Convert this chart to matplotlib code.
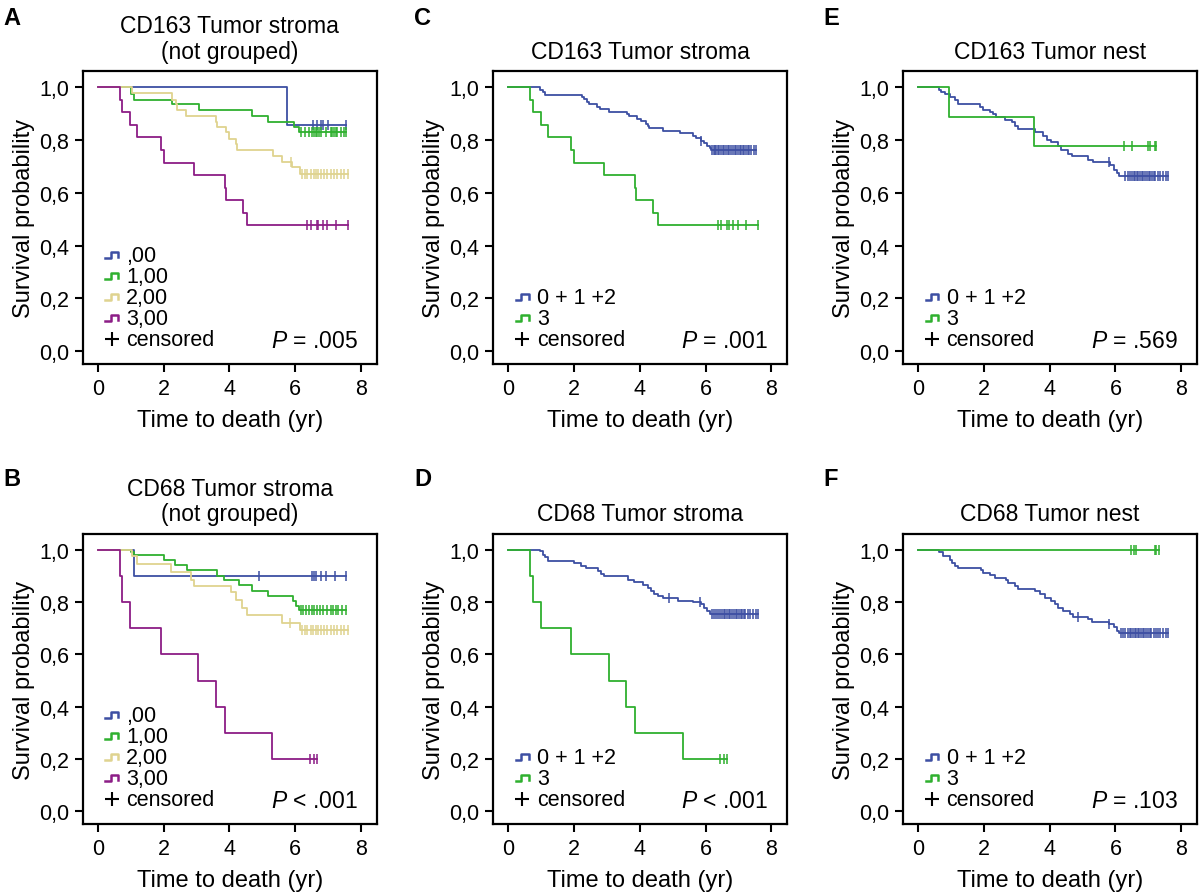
import matplotlib
matplotlib.use("Agg")
import matplotlib.pyplot as plt
import numpy as np
from matplotlib.lines import Line2D
from matplotlib.legend_handler import HandlerBase

plt.rcParams['font.family'] = ['Liberation Sans', 'DejaVu Sans']
plt.rcParams['mathtext.fontset'] = 'custom'
plt.rcParams['mathtext.it'] = 'Liberation Sans:italic'
plt.rcParams['mathtext.rm'] = 'Liberation Sans'

BLUE = '#3d4fa3'
GREEN = '#2fb02f'
YELLOW = '#dfd38f'
PURPLE = '#8c1d86'

# ---------------- data (drop times, survival after drop, censor times) ----------------
# Panel A: CD163 tumor stroma (not grouped)
a0_t = [5.74]
a0_s = [0.857]
a0_c = [6.54, 6.65, 6.77, 6.85, 7.0, 7.54]
a1_t = [1.01, 1.10, 2.26, 3.07, 4.70, 5.18, 5.96, 6.12]
a1_s = [0.975, 0.953, 0.937, 0.914, 0.893, 0.870, 0.849, 0.830]
a1_c = [6.17, 6.29, 6.42, 6.52, 6.57, 6.62, 6.67, 6.72, 6.77, 6.93, 7.08, 7.13,
        7.18, 7.23, 7.28, 7.38, 7.48, 7.54]
a2_t = [1.04, 2.26, 2.36, 2.41, 2.67, 3.58, 3.63, 3.88, 3.99, 4.19, 4.24, 5.33,
        5.61, 5.91, 6.15]
a2_s = [0.977, 0.953, 0.937, 0.914, 0.893, 0.870, 0.849, 0.830, 0.805, 0.784,
        0.761, 0.738, 0.717, 0.698, 0.673]
a2_c = [5.86, 6.22, 6.29, 6.37, 6.47, 6.57, 6.62, 6.69, 6.77, 6.88, 6.98, 7.08,
        7.18, 7.28, 7.38, 7.48, 7.59]
a3_t = [0.67, 0.74, 0.99, 1.20, 1.91, 2.01, 2.92, 3.85, 3.88, 4.41, 4.54]
a3_s = [0.952, 0.905, 0.857, 0.810, 0.762, 0.714, 0.667, 0.619, 0.571, 0.524, 0.476]
a3_c = [6.37, 6.47, 6.65, 6.70, 6.83, 6.98, 7.23, 7.59]

# Panel C: CD163 tumor stroma grouped (group 3 = A's 3,00)
c012_t = [0.97, 1.04, 1.10, 2.23, 2.31, 2.39, 2.46, 2.70, 2.80, 3.07, 3.61, 3.68,
          3.91, 4.02, 4.19, 4.24, 4.29, 4.70, 5.21, 5.61, 5.71, 5.86, 5.96, 6.04,
          6.12, 6.17]
c012_s = [0.991, 0.982, 0.972, 0.963, 0.954, 0.945, 0.936, 0.926, 0.917, 0.908,
          0.899, 0.890, 0.880, 0.871, 0.862, 0.853, 0.844, 0.834, 0.825, 0.816,
          0.807, 0.798, 0.788, 0.779, 0.770, 0.761]
c012_c = [5.86, 6.19, 6.25, 6.29, 6.33, 6.37, 6.42, 6.47, 6.52, 6.57, 6.62, 6.67,
          6.72, 6.77, 6.83, 6.88, 6.93, 6.98, 7.03, 7.08, 7.13, 7.18, 7.23, 7.28,
          7.33, 7.38, 7.48, 7.54]

# Panel E: CD163 tumor nest
e012_t = [0.63, 0.69, 0.81, 0.98, 1.12, 1.20, 1.88, 1.98, 2.18, 2.28, 2.37, 2.64,
          2.84, 2.94, 3.03, 3.55, 3.81, 3.91, 4.04, 4.26, 4.34, 4.57, 4.67, 5.18,
          5.33, 5.84, 5.97, 6.04, 6.12]
e012_s = [0.990, 0.981, 0.975, 0.965, 0.950, 0.937, 0.925, 0.915, 0.906, 0.897,
          0.887, 0.877, 0.868, 0.855, 0.843, 0.830, 0.814, 0.801, 0.792, 0.776,
          0.763, 0.748, 0.738, 0.725, 0.717, 0.704, 0.688, 0.675, 0.665]
e012_c = [5.81, 6.29, 6.38, 6.45, 6.50, 6.55, 6.60, 6.65, 6.70, 6.75, 6.80, 6.85,
          6.90, 6.95, 7.01, 7.06, 7.11, 7.16, 7.21, 7.29, 7.36, 7.46, 7.54, 7.59]
e3_t = [0.94, 3.53]
e3_s = [0.889, 0.778]
e3_c = [6.27, 6.50, 6.98, 7.06, 7.21, 7.24]

# Panel B: CD68 tumor stroma (not grouped)
b0_t = [1.10]
b0_s = [0.900]
b0_c = [4.90, 6.50, 6.57, 6.62, 6.77, 6.93, 7.20, 7.54]
b1_t = [1.01, 1.10, 2.01, 2.34, 2.72, 3.63, 3.83, 4.29, 4.70, 5.18, 5.94, 6.01, 6.12]
b1_s = [0.990, 0.981, 0.962, 0.943, 0.924, 0.901, 0.884, 0.867, 0.844, 0.825,
        0.804, 0.785, 0.770]
b1_c = [6.17, 6.25, 6.32, 6.42, 6.52, 6.57, 6.67, 6.75, 6.83, 6.98, 7.08, 7.16,
        7.23, 7.30, 7.43, 7.54]
b2_t = [1.04, 1.18, 2.23, 2.82, 2.92, 4.04, 4.19, 4.39, 4.54, 5.61, 6.15]
b2_s = [0.975, 0.946, 0.915, 0.886, 0.861, 0.838, 0.810, 0.778, 0.749, 0.722, 0.694]
b2_c = [5.84, 6.22, 6.29, 6.37, 6.47, 6.55, 6.62, 6.69, 6.77, 6.88, 6.98, 7.08,
        7.18, 7.28, 7.38, 7.48, 7.59]
b3_t = [0.67, 0.74, 0.99, 1.91, 3.05, 3.58, 3.86, 5.30]
b3_s = [0.9, 0.8, 0.7, 0.6, 0.5, 0.4, 0.3, 0.2]
b3_c = [6.45, 6.57, 6.65]

# Panel D: CD68 tumor stroma grouped (group 3 = B's 3,00)
d012_t = [0.97, 1.04, 1.10, 1.20, 1.99, 2.21, 2.36, 2.72, 2.82, 2.92, 3.63, 3.83,
          4.09, 4.24, 4.34, 4.44, 4.54, 4.70, 5.15, 5.61, 5.86, 5.96, 6.04, 6.12]
d012_s = [0.994, 0.981, 0.972, 0.959, 0.949, 0.939, 0.930, 0.918, 0.909, 0.899,
          0.886, 0.876, 0.867, 0.854, 0.842, 0.833, 0.823, 0.814, 0.806, 0.800,
          0.794, 0.778, 0.766, 0.753]
d012_c = [4.90, 5.84, 6.19, 6.25, 6.32, 6.37, 6.45, 6.50, 6.55, 6.60, 6.65, 6.70,
          6.75, 6.81, 6.86, 6.91, 6.96, 7.01, 7.06, 7.11, 7.16, 7.21, 7.28, 7.36,
          7.43, 7.52, 7.59]

# Panel F: CD68 tumor nest
f012_t = [0.63, 0.76, 0.96, 1.02, 1.12, 1.20, 1.91, 1.98, 2.18, 2.34, 2.67, 2.74,
          2.94, 3.03, 3.55, 3.71, 3.86, 4.04, 4.16, 4.26, 4.42, 4.62, 4.72, 5.18,
          5.28, 5.79, 5.97, 6.04, 6.12]
f012_s = [0.990, 0.977, 0.962, 0.949, 0.939, 0.930, 0.922, 0.911, 0.903, 0.892,
          0.884, 0.873, 0.863, 0.851, 0.842, 0.833, 0.816, 0.804, 0.791, 0.778,
          0.766, 0.753, 0.744, 0.734, 0.724, 0.715, 0.703, 0.690, 0.681]
f012_c = [4.87, 5.81, 6.17, 6.24, 6.29, 6.38, 6.43, 6.48, 6.53, 6.58, 6.63, 6.68,
          6.73, 6.78, 6.83, 6.88, 6.93, 6.98, 7.04, 7.09, 7.16, 7.23, 7.29, 7.36,
          7.46, 7.53, 7.59]
f3_t = []
f3_s = []
f3_c = [6.48, 6.55, 6.62, 7.19, 7.23, 7.31]

ungrouped_labels = [',00', '1,00', '2,00', '3,00']
grouped_labels = ['0 + 1 +2', '3']
yticks = [0.0, 0.2, 0.4, 0.6, 0.8, 1.0]
ytick_labels = ['0,0', '0,2', '0,4', '0,6', '0,8', '1,0']
xticks = [0, 2, 4, 6, 8]


class HandlerStep(HandlerBase):
    # small step glyph like the SPSS legend
    def create_artists(self, legend, orig_handle, xdescent, ydescent, width, height,
                       fontsize, trans):
        if orig_handle.get_marker() == '+':
            ln = Line2D([width * 0.5], [height * 0.4], marker='+', markersize=10,
                        mew=1.5, color='black', linestyle='none')
        else:
            x0, x1 = width * 0.1, width * 0.9
            ylo, yhi = height * 0.2, height * 0.6
            xm = x0 + (x1 - x0) * 0.4
            x = [x0, xm, xm, x1, x1]
            y = [ylo, ylo, yhi, yhi, ylo + 0.1 * height]
            ln = Line2D(x, y, color=orig_handle.get_color(), lw=1.8)
        ln.set_transform(trans)
        return [ln]


def km_plot(ax, times, surv, cens, color):
    t_end = max(cens) if cens else max(times)
    xs = np.concatenate([[0.0], times, [t_end]])
    ys = np.concatenate([[1.0], surv, [surv[-1] if surv else 1.0]])
    ax.step(xs, ys, where='post', color=color, lw=1.3)
    if cens:
        idx = np.searchsorted(times, cens, side='right')
        cy = np.concatenate([[1.0], surv])[idx]
        ax.plot(cens, cy, linestyle='none', marker='|', markersize=7, mew=1.1,
                color=color)


def style_axes(ax, title, pval, labels, colors):
    ax.set_xlim(-0.46, 8.48)
    ax.set_ylim(-0.05, 1.06)
    ax.set_xticks(xticks)
    ax.set_yticks(yticks)
    ax.set_yticklabels(ytick_labels)
    ax.tick_params(direction='out', length=6, width=1.5, labelsize=15.5, pad=4)
    for sp in ax.spines.values():
        sp.set_linewidth(1.6)
    ax.set_xlabel('Time to death (yr)', fontsize=17, labelpad=7)
    ax.set_ylabel('Survival probability', fontsize=17, labelpad=3)
    ax.set_title(title, fontsize=16.5, pad=10, linespacing=1.15)
    ax.text(0.935, 0.06, '$P$ ' + pval, transform=ax.transAxes, fontsize=16.5,
            ha='right', va='baseline')
    handles = [Line2D([], [], color=c) for c in colors]
    handles.append(Line2D([], [], color='black', marker='+'))
    ax.legend(handles, labels + ['censored'], loc='lower left',
              bbox_to_anchor=(0.02, -0.004), frameon=False, fontsize=15.5,
              handler_map={Line2D: HandlerStep()}, handlelength=0.75,
              handletextpad=0.3, labelspacing=0.0, borderpad=0.2)


fig = plt.figure(figsize=(12, 8.95), dpi=100)
col_left = [0.069, 0.411, 0.7525]
ax_w = 0.245
row_bottom = [0.592, 0.078]
ax_h = [0.327, 0.324]
letter_y = [0.972, 0.457]

axA = fig.add_axes([col_left[0], row_bottom[0], ax_w, ax_h[0]])
axC = fig.add_axes([col_left[1], row_bottom[0], ax_w, ax_h[0]])
axE = fig.add_axes([col_left[2], row_bottom[0], ax_w, ax_h[0]])
axB = fig.add_axes([col_left[0], row_bottom[1], ax_w, ax_h[1]])
axD = fig.add_axes([col_left[1], row_bottom[1], ax_w, ax_h[1]])
axF = fig.add_axes([col_left[2], row_bottom[1], ax_w, ax_h[1]])

# A
km_plot(axA, a0_t, a0_s, a0_c, BLUE)
km_plot(axA, a1_t, a1_s, a1_c, GREEN)
km_plot(axA, a2_t, a2_s, a2_c, YELLOW)
km_plot(axA, a3_t, a3_s, a3_c, PURPLE)
style_axes(axA, 'CD163 Tumor stroma\n(not grouped)', '= .005',
           ungrouped_labels, [BLUE, GREEN, YELLOW, PURPLE])

# C
km_plot(axC, c012_t, c012_s, c012_c, BLUE)
km_plot(axC, a3_t, a3_s, a3_c, GREEN)
style_axes(axC, 'CD163 Tumor stroma', '= .001', grouped_labels, [BLUE, GREEN])

# E
km_plot(axE, e012_t, e012_s, e012_c, BLUE)
km_plot(axE, e3_t, e3_s, e3_c, GREEN)
style_axes(axE, 'CD163 Tumor nest', '= .569', grouped_labels, [BLUE, GREEN])

# B
km_plot(axB, b0_t, b0_s, b0_c, BLUE)
km_plot(axB, b1_t, b1_s, b1_c, GREEN)
km_plot(axB, b2_t, b2_s, b2_c, YELLOW)
km_plot(axB, b3_t, b3_s, b3_c, PURPLE)
style_axes(axB, 'CD68 Tumor stroma\n(not grouped)', '< .001',
           ungrouped_labels, [BLUE, GREEN, YELLOW, PURPLE])

# D
km_plot(axD, d012_t, d012_s, d012_c, BLUE)
km_plot(axD, b3_t, b3_s, b3_c, GREEN)
style_axes(axD, 'CD68 Tumor stroma', '< .001', grouped_labels, [BLUE, GREEN])

# F
km_plot(axF, f012_t, f012_s, f012_c, BLUE)
km_plot(axF, f3_t, f3_s, f3_c, GREEN)
style_axes(axF, 'CD68 Tumor nest', '= .103', grouped_labels, [BLUE, GREEN])

# panel letters
for letter, col, row in [('A', 0, 0), ('C', 1, 0), ('E', 2, 0),
                         ('B', 0, 1), ('D', 1, 1), ('F', 2, 1)]:
    fig.text(col_left[col] - 0.066, letter_y[row], letter, fontsize=17,
             fontweight='bold', ha='left', va='baseline')

fig.savefig('out.png', dpi=100)
